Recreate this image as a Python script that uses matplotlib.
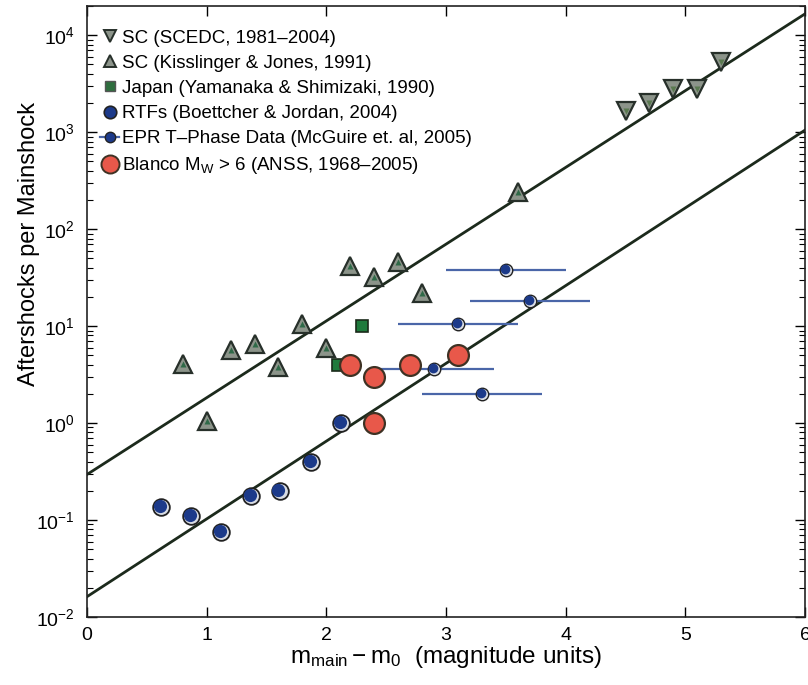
import numpy as np
import matplotlib
matplotlib.use('Agg')
import matplotlib.pyplot as plt
from matplotlib.lines import Line2D
from matplotlib.transforms import offset_copy

plt.rcParams['font.family'] = ['Liberation Sans', 'DejaVu Sans']
plt.rcParams['mathtext.fontset'] = 'custom'
plt.rcParams['mathtext.rm'] = 'Liberation Sans'
plt.rcParams['mathtext.it'] = 'Liberation Sans'
plt.rcParams['mathtext.default'] = 'regular'

## data ##
scedc_x = [4.5, 4.7, 4.9, 5.1, 5.3]
scedc_y = [1660, 1990, 2760, 2760, 5250]

kj_x = [0.8, 1.0, 1.2, 1.4, 1.6, 1.8, 2.0, 2.2, 2.4, 2.6, 2.8, 3.6]
kj_y = [4.1, 1.05, 5.7, 6.6, 3.8, 10.4, 6.0, 42, 32, 46, 22, 240]

japan_x = [2.1, 2.3]
japan_y = [4.0, 10.0]

rtf_x = [0.62, 0.87, 1.12, 1.37, 1.61, 1.87, 2.12]
rtf_y = [0.135, 0.11, 0.076, 0.175, 0.20, 0.40, 1.0]

epr_x = [2.9, 3.1, 3.3, 3.5, 3.7]
epr_y = [3.6, 10.4, 2.0, 38, 18.3]
epr_err = [0.5, 0.5, 0.5, 0.5, 0.5]

blanco_x = [2.2, 2.4, 2.4, 2.7, 3.1]
blanco_y = [4.0, 3.0, 1.0, 4.0, 5.0]

# fitted lines (end points)
fit_x = [0, 6]
fit_upper = [0.295, 16600]
fit_lower = [0.0162, 1050]

labels = ['SC (SCEDC, 1981–2004)',
          'SC (Kisslinger & Jones, 1991)',
          'Japan (Yamanaka & Shimizaki, 1990)',
          'RTFs (Boettcher & Jordan, 2004)',
          'EPR T–Phase Data (McGuire et. al, 2005)',
          'Blanco M$_W$ > 6 (ANSS, 1968–2005)']

tri_fc = '#8c948a'
tri_ec = '#27302a'
blue = '#1c3a8a'
red = '#e8584a'

fig = plt.figure(figsize=(8.08, 6.85), dpi=100)
ax = fig.add_axes([0.1077, 0.0993, 0.8886, 0.8919])

line_col = '#1c2a1c'
ax.plot(fit_x, fit_upper, '-', color=line_col, lw=2.0, zorder=2)
ax.plot(fit_x, fit_lower, '-', color=line_col, lw=2.0, zorder=2)

# triangles with a small green splotch inside
ax.plot(scedc_x, scedc_y, 'v', ms=13, mfc=tri_fc, mec=tri_ec, mew=1.6, ls='none', zorder=4)
ax.plot(scedc_x, scedc_y, 'v', ms=4, mfc='#5a7a50', mec='none', ls='none', zorder=4)
ax.plot(kj_x, kj_y, '^', ms=13, mfc=tri_fc, mec=tri_ec, mew=1.6, ls='none', zorder=4)
ax.plot(kj_x, kj_y, '^', ms=4, mfc='#2f6a48', mec='none', ls='none', zorder=4)

ax.plot(japan_x, japan_y, 's', ms=9, mfc='#1f7a3c', mec='#1a2a1a', mew=1.2,
        ls='none', zorder=4)

# circles with a light crescent on the lower right
shift = offset_copy(ax.transData, fig=fig, x=-1.2, y=1.0, units='dots')
ax.plot(rtf_x, rtf_y, 'o', ms=12, mfc='#d8dce4', mec='#222222', mew=1.3, ls='none', zorder=4)
ax.plot(rtf_x, rtf_y, 'o', ms=9.5, mfc=blue, mec='none', ls='none', zorder=4, transform=shift)

ax.errorbar(epr_x, epr_y, xerr=epr_err, fmt='none', ecolor='#4a66a8',
            elinewidth=1.6, capsize=0, zorder=3)
ax.plot(epr_x, epr_y, 'o', ms=9, mfc='#d8dce4', mec='#222222', mew=1.0, ls='none', zorder=4)
ax.plot(epr_x, epr_y, 'o', ms=7, mfc=blue, mec='none', ls='none', zorder=4, transform=shift)

ax.plot(blanco_x, blanco_y, 'o', ms=15, mfc=red, mec='#3e3224', mew=1.6,
        ls='none', zorder=5)

ax.set_yscale('log')
ax.set_xlim(0, 6)
ax.set_ylim(1e-2, 2e4)
ax.set_xticks([0, 1, 2, 3, 4, 5, 6])
ax.tick_params(which='both', direction='in', top=True, right=True, labelsize=14)
ax.tick_params(which='major', length=7, width=1.0)
ax.tick_params(which='minor', length=4, width=0.8)
ax.tick_params(axis='y', which='major', pad=9)
ax.tick_params(axis='x', which='major', pad=7)
for sp in ax.spines.values():
    sp.set_linewidth(1.2)
    sp.set_color('#222222')

ax.set_xlabel('$m_{main} - m_0$  (magnitude units)', fontsize=17.5, labelpad=0)
ax.set_ylabel('Aftershocks per Mainshock', fontsize=17)
ax.yaxis.set_label_coords(-0.066, 0.61)

## legend with smaller markers ##
handles = [
    Line2D([], [], ls='none', marker='v', ms=8.5, mfc=tri_fc, mec=tri_ec, mew=1.4),
    Line2D([], [], ls='none', marker='^', ms=8.5, mfc=tri_fc, mec=tri_ec, mew=1.4),
    Line2D([], [], ls='none', marker='s', ms=6.5, mfc='#2e6e3e', mec='#555555', mew=1.0),
    Line2D([], [], ls='none', marker='o', ms=9, mfc=blue, mec='#222222', mew=1.2),
    Line2D([], [], ls='-', color='#4a66a8', lw=1.6, marker='o', ms=7.5, mfc=blue,
           mec='#222222', mew=1.0),
    Line2D([], [], ls='none', marker='o', ms=13, mfc=red, mec='#3e3224', mew=1.4),
]
ax.legend(handles, labels, loc='upper left', bbox_to_anchor=(0.0, 0.983),
          frameon=False, fontsize=13.5, handlelength=1.0, handletextpad=0.15,
          labelspacing=0.43, borderaxespad=0.3, borderpad=0.4)

fig.savefig('out.png', dpi=100)
